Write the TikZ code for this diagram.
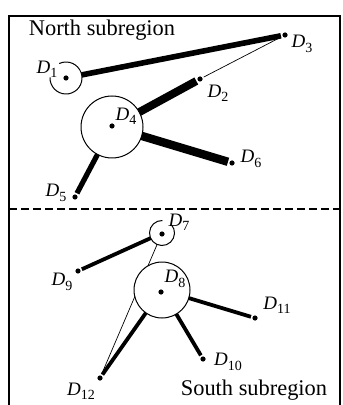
\documentclass[tikz,border=0pt]{standalone}
\usepackage{fontspec}
\setmainfont{Liberation Serif}
\usetikzlibrary{backgrounds}

\newcommand{\Dlab}[1]{\textit{D}\raisebox{-0.5ex}{\fontsize{7}{8}\selectfont #1}}

\begin{document}
\begin{tikzpicture}[
    x=0.5pt, y=-0.5pt,
    pt/.style={circle, fill, inner sep=0pt, minimum size=2.6pt, outer sep=0.8pt},
    zone/.style={circle, inner sep=0pt, outer sep=0pt, line width=0.5pt},
    lab/.style={inner sep=0pt, font=\fontsize{9.5}{11}\selectfont},
    heavy/.style={line width=#1, line cap=butt},
    fine/.style={line width=0.35pt},
    region/.style={inner sep=0pt, font=\fontsize{11.2}{13}\selectfont}
]
\useasboundingbox (0,0) rectangle (342,405);

% frame and the line between the two subregions
\draw[line width=1pt] (9,405) |- (340,16) -- (340,405);
\draw[line width=0.9pt, dash pattern=on 4pt off 2pt] (9,209) -- (340,209);

\node[region] (north) at (102,30) {North subregion};
\node[region] (south) at (254,390) {South subregion};

% circles
\node[zone, minimum size=16pt] (c1) at (66,78) {};
\node[zone, draw, fill=white, minimum size=31pt] (c4) at (112,127) {};
\node[zone, minimum size=12.5pt] (c7) at (162,233) {};
\node[zone, draw, fill=white, minimum size=28pt] (c8) at (162,290) {};
\draw[zone] (c1.178) arc[start angle=178, end angle=475, radius=8pt];
\draw[zone] (c7.88) arc[start angle=88, end angle=400, radius=6.25pt];

% points
\node[pt] (d1) at (66,78) {};
\node[pt] (d2) at (200,79) {};
\node[pt] (d3) at (285,35) {};
\node[pt] (d4) at (112,126) {};
\node[pt] (d5) at (75,197) {};
\node[pt] (d6) at (232,163) {};
\node[pt] (d7) at (162,234) {};
\node[pt] (d8) at (161,292) {};
\node[pt] (d9) at (78,271) {};
\node[pt] (d10) at (203,359) {};
\node[pt] (d11) at (255,318) {};
\node[pt] (d12) at (100,378) {};

% labels
\node[lab] (l1) at (47,69) {\Dlab{1}};
\node[lab] (l2) at (218,93) {\Dlab{2}};
\node[lab] (l3) at (302,44) {\Dlab{3}};
\node[lab] (l4) at (126,116) {\Dlab{4}};
\node[lab] (l5) at (56,193) {\Dlab{5}};
\node[lab] (l6) at (251,159) {\Dlab{6}};
\node[lab] (l7) at (179,222) {\Dlab{7}};
\node[lab] (l8) at (175,279) {\Dlab{8}};
\node[lab] (l9) at (62,282) {\Dlab{9}};
\node[lab] (l10) at (228,362) {\Dlab{10}};
\node[lab] (l11) at (277,305) {\Dlab{11}};
\node[lab] (l12) at (81,391) {\Dlab{12}};

% north links
\draw[heavy=2.8pt] (c1) -- (d3);
\draw[fine] (d3) -- (d2);
\draw[heavy=4pt] (c4) -- (d2);
\draw[heavy=4.2pt] (c4) -- (d6);
\draw[heavy=2.6pt] (c4) -- (d5);

% south links
\draw[heavy=1.9pt] (d9) -- (c7);
\draw[heavy=1.9pt] (c8) -- (d11);
\draw[heavy=1.9pt] (c8) -- (d10);
\draw[heavy=1.9pt] (c8) -- (d12);
\begin{scope}[on background layer]
  \draw[fine] (c7) -- (d12);
\end{scope}
\end{tikzpicture}
\end{document}
